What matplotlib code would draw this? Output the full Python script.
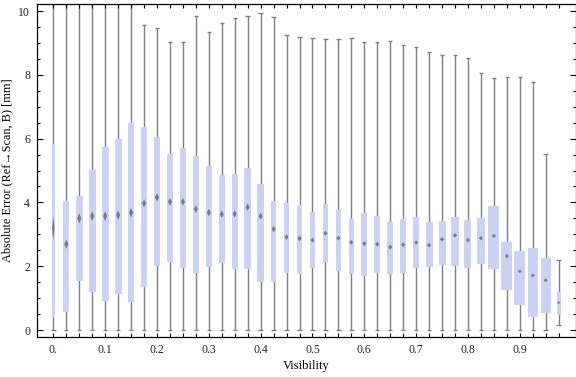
import numpy as np
import matplotlib
matplotlib.use('Agg')
from matplotlib import pyplot as plt
from matplotlib.ticker import MultipleLocator, FixedLocator

plt.rcParams['font.family'] = ['Liberation Serif', 'DejaVu Serif']

# visibility bins (box centres)
vis = [0.0, 0.025, 0.05, 0.075, 0.1, 0.125, 0.15, 0.175, 0.2, 0.225,
       0.25, 0.275, 0.3, 0.325, 0.35, 0.375, 0.4, 0.425, 0.45, 0.475,
       0.5, 0.525, 0.55, 0.575, 0.6, 0.625, 0.65, 0.675, 0.7, 0.725,
       0.75, 0.775, 0.8, 0.825, 0.85, 0.875, 0.9, 0.925, 0.95, 0.975]

# upper whisker (values above 10 run off the top)
w_hi = [14.0, 14.0, 14.0, 14.0, 14.0, 14.0, 14.0, 9.56, 9.46, 9.04,
        9.02, 9.84, 9.33, 9.61, 9.77, 9.84, 9.93, 9.80, 9.24, 9.20,
        9.16, 9.11, 9.11, 9.14, 9.04, 9.02, 9.05, 8.93, 8.86, 8.70,
        8.62, 8.62, 8.52, 8.06, 7.89, 7.92, 7.92, 7.77, 5.51, 2.18]
q3 = [5.83, 4.04, 4.20, 5.02, 5.74, 5.99, 6.48, 6.35, 6.05, 5.52,
      5.72, 5.46, 5.14, 4.86, 4.89, 5.08, 4.58, 4.03, 3.98, 3.91,
      3.69, 3.95, 3.75, 3.47, 3.66, 3.57, 3.39, 3.48, 3.54, 3.39,
      3.42, 3.54, 3.45, 3.51, 3.89, 2.76, 2.49, 2.57, 2.26, 1.19]
med = [3.19, 2.69, 3.50, 3.57, 3.57, 3.60, 3.68, 3.97, 4.16, 4.02,
       4.02, 3.79, 3.68, 3.63, 3.64, 3.85, 3.57, 3.16, 2.91, 2.87,
       2.82, 3.03, 2.88, 2.75, 2.71, 2.69, 2.60, 2.67, 2.74, 2.66,
       2.84, 2.97, 2.82, 2.88, 2.95, 2.32, 1.84, 1.71, 1.56, 0.86]
q1 = [0.42, 0.57, 1.55, 1.19, 0.92, 1.13, 0.89, 1.36, 2.02, 2.12,
      1.93, 1.80, 1.98, 2.11, 1.92, 1.92, 1.51, 1.51, 1.80, 1.75,
      1.95, 2.14, 1.86, 1.76, 1.70, 1.80, 1.76, 1.80, 1.95, 1.98,
      2.05, 2.02, 1.95, 2.08, 1.92, 1.26, 0.79, 0.42, 0.54, 0.46]
w_lo = [0.0] * 39 + [0.16]

# box widths (px) and median notch half-heights
box_w = [3.5, 6.3, 7, 7, 7, 7, 6.3, 6.3, 6.3, 6.3,
         6.3, 6.3, 6.3, 6.3, 6.3, 6.5, 6.3, 5.5, 5.5, 5.5,
         5.5, 5.7, 5.5, 5.5, 6, 6, 6, 6.2, 6.5, 7,
         7, 7, 7, 8.5, 11, 11, 11, 10.3, 10, 4.3]
notch = [0.37, 0.14, 0.16, 0.15, 0.15, 0.15, 0.15, 0.13, 0.13, 0.12,
         0.12, 0.12, 0.12, 0.11, 0.11, 0.11, 0.11, 0.1, 0.09, 0.09,
         0.08, 0.08, 0.08, 0.08, 0.08, 0.08, 0.08, 0.08, 0.07, 0.07,
         0.07, 0.07, 0.07, 0.07, 0.07, 0.07, 0.06, 0.06, 0.06, 0.04]

px = 1 / 518.0  # data units per pixel along x

fig = plt.figure(figsize=(5.76, 3.77), dpi=100)
ax = fig.add_axes([37 / 576, 40 / 377, 538.5 / 576, 333 / 377])

x = np.array(vis)
ax.vlines(x, w_lo, w_hi, color='#7f7f7f', lw=1.0, zorder=1)
cap = 2.2 * px
ax.hlines(w_hi, x - cap, x + cap, color='#7f7f7f', lw=1.0, zorder=1)
ax.hlines(w_lo, x - cap, x + cap, color='#7f7f7f', lw=1.0, zorder=1)

ax.bar(x, np.array(q3) - np.array(q1), bottom=q1,
       width=np.array(box_w) * px, color='#cbd2f4', zorder=2)

for i, (xi, m, dh) in enumerate(zip(vis, med, notch)):
    dw = (1.2 if i == 0 else 2.0) * px
    ax.fill([xi - dw, xi, xi + dw, xi], [m, m + dh, m, m - dh],
            color='#7a7a7a', lw=0, zorder=3)

ax.set_xlim(-0.0315, 1.0075)
ax.set_ylim(-0.219, 10.22)

ax.xaxis.set_major_locator(FixedLocator([0.0, 0.1, 0.2, 0.3, 0.4, 0.5, 0.6, 0.7, 0.8, 0.9]))
ax.set_xticklabels(['0.', '0.1', '0.2', '0.3', '0.4', '0.5', '0.6', '0.7', '0.8', '0.9'])
ax.xaxis.set_minor_locator(FixedLocator(vis))
ax.yaxis.set_major_locator(MultipleLocator(2))
ax.yaxis.set_minor_locator(MultipleLocator(0.5))

ax.tick_params(which='both', direction='in', top=True, right=True,
               labelsize=8.5, labelcolor='#222233', width=0.8)
ax.tick_params(axis='x', which='both', length=3, pad=5)
ax.tick_params(axis='y', which='major', length=4, pad=5)
ax.tick_params(axis='y', which='minor', length=2.2)
for s in ax.spines.values():
    s.set_linewidth(0.9)

ax.set_xlabel('Visibility', fontsize=9, labelpad=3)
ax.set_ylabel('Absolute Error (Ref\u2192Scan, B) [mm]', fontsize=8.8, labelpad=3.5)

fig.savefig('out.png', dpi=100)
